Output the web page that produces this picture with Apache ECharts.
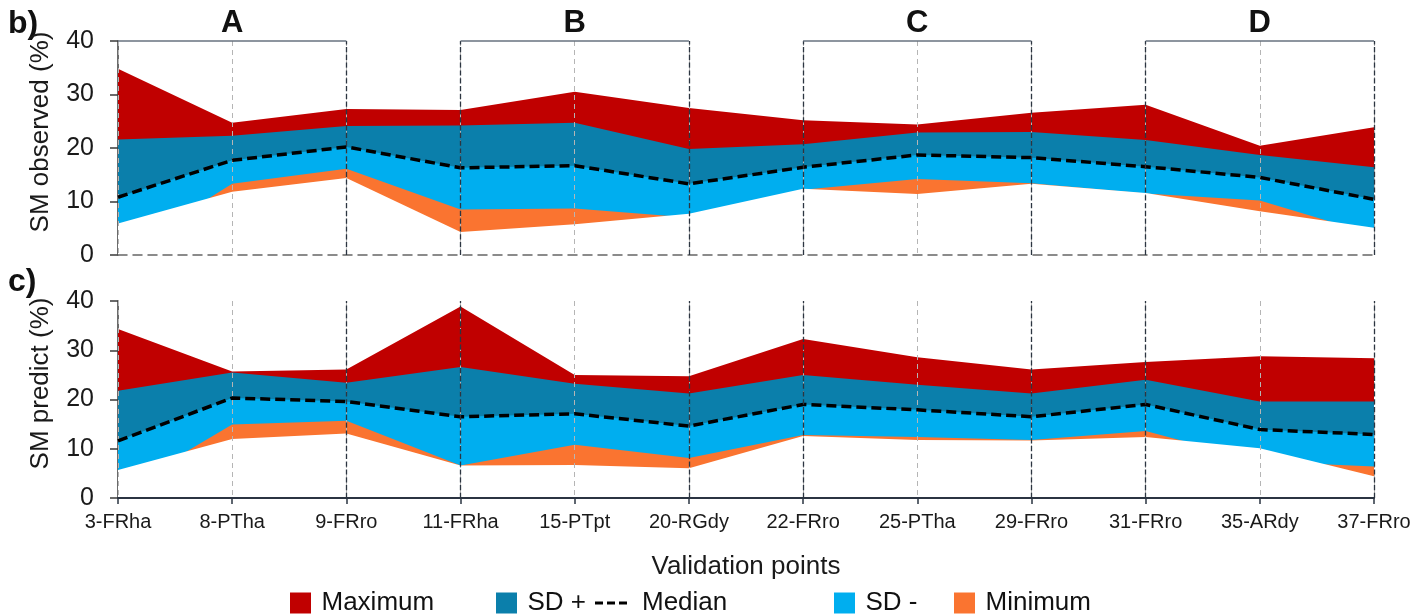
<!DOCTYPE html>
<html>
<head>
<meta charset="utf-8">
<script src="https://cdn.jsdelivr.net/npm/echarts@6/dist/echarts.min.js"></script>
<style>
html,body{margin:0;padding:0;background:#fff}
#chart{width:1417px;height:614px}
</style>
</head>
<body>
<div id="chart"></div>
<script>
// validation points (x axis)
var points = ['3-FRha','8-PTha','9-FRro','11-FRha','15-PTpt','20-RGdy','22-FRro','25-PTha','29-FRro','31-FRro','35-ARdy','37-FRro'];

// b) SM observed (%)
var obsMax     = [34.8, 24.7, 27.3, 27.1, 30.5, 27.5, 25.2, 24.4, 26.6, 28.1, 20.4, 23.9];
var obsSdPlus  = [21.6, 22.3, 24.1, 24.2, 24.7, 19.8, 20.7, 22.9, 23.0, 21.5, 18.7, 16.4];
var obsMedian  = [10.8, 17.7, 20.2, 16.3, 16.7, 13.3, 16.4, 18.7, 18.2, 16.5, 14.5, 10.4];
var obsSdMinus = [0.0, 13.3, 16.1, 8.5, 8.7, 7.0, 12.2, 14.2, 13.4, 11.5, 10.2, 3.8];
var obsMin     = [5.9, 11.8, 14.4, 4.3, 5.75, 7.7, 12.4, 11.4, 13.3, 11.6, 8.2, 5.1];

// c) SM predict (%)
var predMax     = [34.3, 25.7, 26.1, 38.9, 25.0, 24.7, 32.3, 28.6, 26.1, 27.6, 28.8, 28.4];
var predSdPlus  = [21.8, 25.5, 23.4, 26.6, 23.2, 21.2, 25.0, 23.0, 21.2, 24.0, 19.6, 19.6];
var predMedian  = [11.6, 20.3, 19.6, 16.5, 17.1, 14.6, 19.0, 17.9, 16.5, 19.0, 13.9, 12.9];
var predSdMinus = [1.2, 14.9, 15.7, 6.6, 10.8, 8.1, 12.8, 12.4, 11.8, 13.6, 7.4, 6.4];
var predMin     = [5.7, 12.0, 13.1, 6.6, 6.7, 6.05, 12.6, 11.8, 11.7, 12.4, 10.1, 4.4];

// groups A-D (category index from / to)
var groups = [{name:'A', from:0, to:2}, {name:'B', from:3, to:5}, {name:'C', from:6, to:8}, {name:'D', from:9, to:11}];

var font = 'Liberation Sans, Arial, sans-serif';
var cMax = '#C00000', cSdPlus = '#0B7FAB', cSdMinus = '#00AEEF', cMin = '#FA7430';

var myChart = echarts.init(document.getElementById('chart'));

function area(name, data, color, idx){
	return {
		name: name, type: 'line', xAxisIndex: idx, yAxisIndex: idx,
		data: data, symbol: 'none', silent: true, z: 2,
		lineStyle: {width: 0}, itemStyle: {color: color},
		areaStyle: {color: color, opacity: 1}
	};
}

//box edges: dashed verticals, solid tops with letter
function boxMarks(withTops){
	var d = [];
	groups.forEach(function(g){
		if(g.from > 0) d.push({xAxis: g.from});
		d.push({xAxis: g.to});
	});
	if(withTops){
		groups.forEach(function(g){
			d.push([
				{coord: [g.from, 40], lineStyle: {type: 'solid', color: '#67727F', width: 1.5},
				 label: {show: true, formatter: g.name, position: 'middle', distance: 2,
				         fontSize: 31, fontWeight: 'bold', color: '#111', fontFamily: font}},
				{coord: [g.to, 40]}
			]);
		});
	}
	return {
		silent: true, symbol: ['none','none'], animation: false,
		label: {show: false},
		lineStyle: {type: 'dashed', color: '#2C3541', width: 1.3},
		data: d
	};
}

function median(data, idx){
	return {
		name: 'Median', type: 'line', xAxisIndex: idx, yAxisIndex: idx,
		data: data, symbol: 'none', silent: true, z: 4,
		lineStyle: {color: '#000', width: 3.5, type: [10, 5]},
		itemStyle: {color: '#000'},
		markLine: boxMarks(idx === 0)
	};
}

function xAxis(idx){
	var bottom = idx === 1;
	return {
		type: 'category', gridIndex: idx, data: points, boundaryGap: false, z: 3,
		axisLine: {show: true, lineStyle: bottom ? {color: '#2B3442', width: 2} : {color: '#666', width: 1.5, type: [9, 6]}},
		axisTick: {show: bottom, length: 6, lineStyle: {color: '#2B3442', width: 1.5}},
		axisLabel: {show: bottom, fontSize: 20, color: '#1a1a1a', margin: 14, fontFamily: font, interval: 0},
		splitLine: {show: true, lineStyle: {color: '#B5B5B5', type: [5, 4], width: 1}},
		name: bottom ? 'Validation points' : '', nameLocation: 'middle', nameGap: 56,
		nameTextStyle: {fontSize: 26, color: '#1a1a1a', fontFamily: font}
	};
}

function yAxis(idx, title){
	return {
		type: 'value', gridIndex: idx, min: 0, max: 40, interval: 10,
		axisLine: {show: true, lineStyle: {color: '#3A3A3A', width: 1.5}},
		axisTick: {show: true, length: 8, lineStyle: {color: '#3A3A3A', width: 1.5}},
		axisLabel: {fontSize: 25, color: '#1a1a1a', margin: 24, fontFamily: font},
		splitLine: {show: false},
		name: title, nameLocation: 'middle', nameGap: 64,
		nameTextStyle: {fontSize: 26, color: '#1a1a1a', fontFamily: font, padding: [0, 0, 0, 32]}
	};
}

var sq = 'path://M0,0h10v10h-10z';
var dash = 'path://M0,0h8v3h-8z M12,0h8v3h-8z M24,0h8v3h-8z';
function leg(left, name, icon, color, pad){
	return {
		left: left, top: 585, itemWidth: 32, itemHeight: 21, selectedMode: false,
		data: [{name: name, icon: icon, itemStyle: {color: color}}],
		textStyle: {fontSize: 26, color: '#111', fontFamily: font, padding: [0, 0, 0, pad || 0]}
	};
}

option = {
	animation: false,
	backgroundColor: '#fff',
	grid: [
		{left: 118, width: 1256, top: 41, height: 214},
		{left: 118, width: 1256, top: 301, height: 197}
	],
	xAxis: [xAxis(0), xAxis(1)],
	yAxis: [yAxis(0, 'SM observed (%)'), yAxis(1, 'SM predict (%)')],
	legend: [
		leg(285, 'Maximum', sq, cMax),
		leg(491, 'SD +', sq, cSdPlus),
		leg(590, 'Median', dash, '#000', 10),
		leg(829, 'SD -', sq, cSdMinus),
		leg(949, 'Minimum', sq, cMin)
	],
	graphic: [
		{type: 'text', left: 8, top: 8, style: {text: 'b)', font: 'bold 32px ' + font, fill: '#111'}},
		{type: 'text', left: 8, top: 266, style: {text: 'c)', font: 'bold 32px ' + font, fill: '#111'}}
	],
	series: [
		area('Maximum', obsMax, cMax, 0),
		area('SD +', obsSdPlus, cSdPlus, 0),
		area('SD -', obsMedian, cSdMinus, 0),
		area('Minimum', obsSdMinus, cMin, 0),
		area('floor', obsMin, '#fff', 0),
		median(obsMedian, 0),
		area('Maximum', predMax, cMax, 1),
		area('SD +', predSdPlus, cSdPlus, 1),
		area('SD -', predMedian, cSdMinus, 1),
		area('Minimum', predSdMinus, cMin, 1),
		area('floor', predMin, '#fff', 1),
		median(predMedian, 1)
	]
};
myChart.setOption(option);
</script>
</body>
</html>
